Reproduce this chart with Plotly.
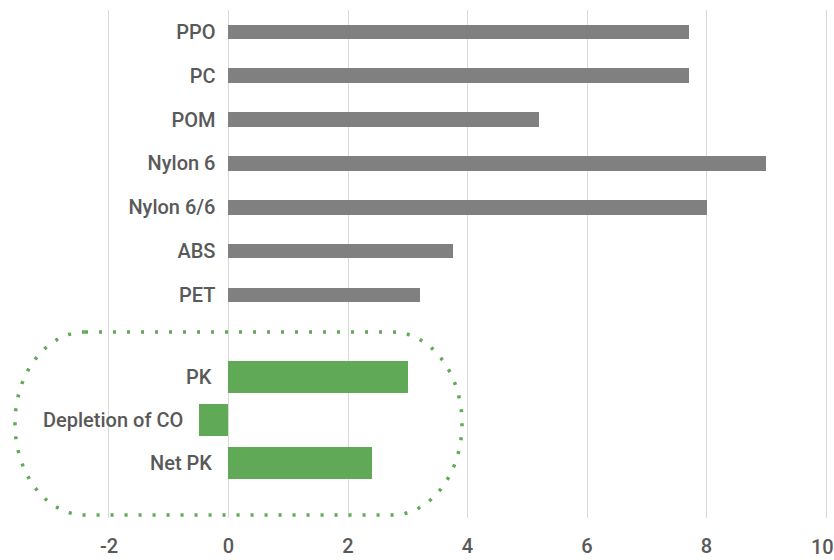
import plotly.graph_objects as go

# ---- data ----
materials = ["PPO", "PC", "POM", "Nylon 6", "Nylon 6/6", "ABS", "PET"]
material_values = [7.7, 7.7, 5.2, 9.0, 8.0, 3.75, 3.2]
pk_labels = ["PK", "Depletion of CO", "Net PK"]
pk_values = [3.0, -0.5, 2.4]
x_ticks = [-2, 0, 2, 4, 6, 8, 10]
x_tick_labels = ["-2", "0", "2", "4", "6", "8", "10"]

# ---- layout constants ----
W, H = 834, 560
ML, MR, MT, MB = 0, 5, 10, 42
XMIN, XMAX = -3.824, 10.05
plot_w = W - ML - MR
plot_h = H - MT - MB
split = 0.396  # paper fraction dividing the two panels

GRAY = "#808080"
GREEN = "#60a957"
TXT = "#595959"
GRID = "#d9d9d9"
FONT = "Roboto"
FSIZE = 20
tfont = dict(family=FONT, size=FSIZE, color=TXT, weight=500)

zero_pos = (0 - XMIN) / (XMAX - XMIN)

fig = go.Figure()
fig.add_trace(go.Bar(x=material_values, y=materials, orientation="h",
                     marker=dict(color=GRAY, line=dict(width=0)),
                     width=0.335, xaxis="x", yaxis="y", showlegend=False,
                     hoverinfo="x+y"))
fig.add_trace(go.Bar(x=pk_values, y=pk_labels, orientation="h",
                     marker=dict(color=GREEN, line=dict(width=0)),
                     width=0.74, xaxis="x2", yaxis="y2", showlegend=False,
                     hoverinfo="x+y"))

# the last tick label sits at the very right edge; draw it as an annotation
# nudged slightly inward so it is not clipped
axis_tick_text = x_tick_labels[:-1] + [""]

xcommon = dict(range=[XMIN, XMAX], tickvals=x_ticks, ticktext=axis_tick_text,
               showgrid=True, gridcolor=GRID, gridwidth=1, zeroline=False,
               showline=False, ticks="", tickfont=tfont, fixedrange=True,
               automargin=False)

fig.update_layout(
    width=W, height=H,
    margin=dict(l=ML, r=MR, t=MT, b=MB),
    paper_bgcolor="white", plot_bgcolor="white",
    bargap=0,
    xaxis=dict(domain=[0, 1], anchor="y", showticklabels=False, **xcommon),
    xaxis2=dict(domain=[0, 1], anchor="y2", matches="x", showticklabels=True,
                ticklabelstandoff=14, ticklabeloverflow="allow", **xcommon),
    yaxis=dict(domain=[split, 1], anchor="free", position=zero_pos,
               type="category", range=[6.5, -0.5], showgrid=False,
               zeroline=False, showline=False, ticks="", automargin=False,
               ticklabelstandoff=13, tickfont=tfont),
    yaxis2=dict(domain=[0, split], anchor="free", position=zero_pos,
                type="category", range=[3.263, -1.379], showgrid=False,
                zeroline=False, showline=False, ticks="", automargin=False,
                showticklabels=False),
)

fig.add_annotation(x=x_ticks[-1], y=0, xref="x2", yref="paper",
                   text=x_tick_labels[-1], showarrow=False,
                   xanchor="center", yanchor="top", xshift=-4, yshift=-15,
                   font=tfont)

# labels for the PK group sit just left of where each bar starts
for lab, val in zip(pk_labels, pk_values):
    fig.add_annotation(x=min(val, 0), y=lab, xref="x2", yref="y2",
                       text=lab, showarrow=False, xanchor="right",
                       yanchor="middle", xshift=-14, font=tfont)

# ---- dotted rounded outline around the PK group (pixel-based decoration) ----
def P(px, py):
    a = (px - ML) / plot_w
    b = (H - MB - py) / plot_h
    return f"{a:.5f},{b:.5f}"

L, R, T, B = 15, 462, 332, 515
rx, ry = 70, (515 - 332) / 2
kx, ky = 0.5523 * rx, 0.5523 * ry
path = (
    f"M {P(L + rx, T)} L {P(R - rx, T)} "
    f"C {P(R - rx + kx, T)} {P(R, T + ry - ky)} {P(R, T + ry)} "
    f"C {P(R, B - ry + ky)} {P(R - rx + kx, B)} {P(R - rx, B)} "
    f"L {P(L + rx, B)} "
    f"C {P(L + rx - kx, B)} {P(L, B - ry + ky)} {P(L, B - ry)} "
    f"C {P(L, T + ry - ky)} {P(L + rx - kx, T)} {P(L + rx, T)} Z"
)
fig.add_shape(type="path", path=path, xref="paper", yref="paper",
              line=dict(color=GREEN, width=3.5, dash="3px,11px"),
              fillcolor="rgba(0,0,0,0)", layer="above")

fig.write_html("out.html")
